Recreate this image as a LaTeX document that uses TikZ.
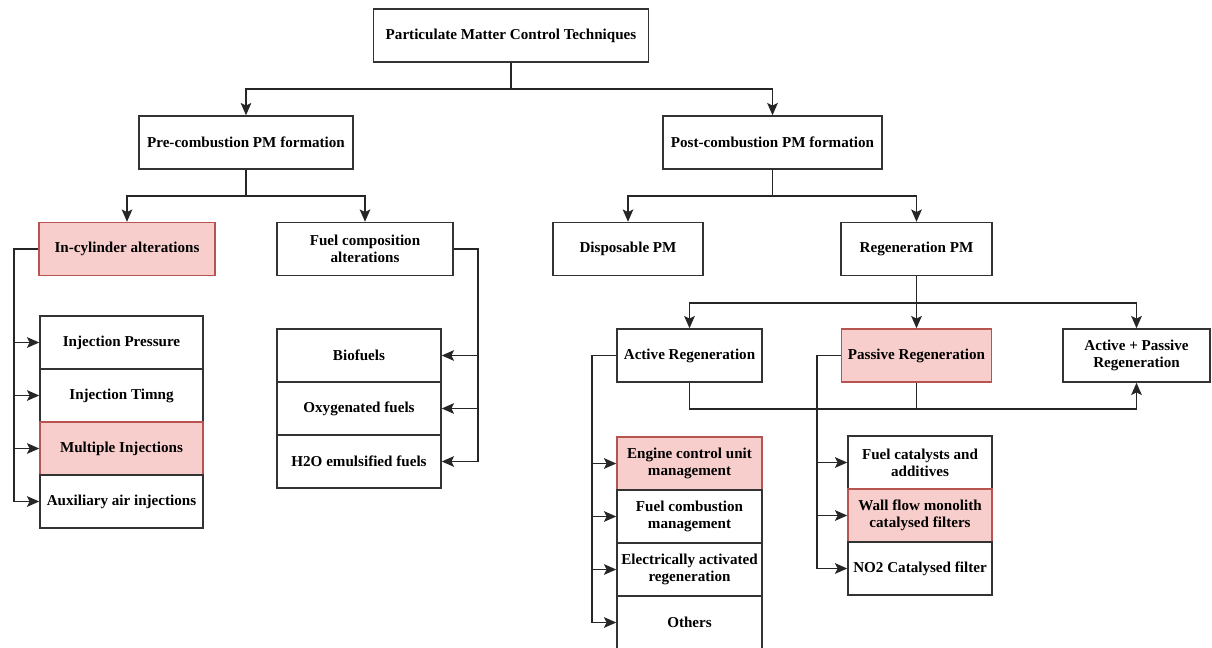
\documentclass[tikz,border=0pt]{standalone}
\usepackage{fontspec}
\setmainfont{Liberation Serif}
\usetikzlibrary{arrows.meta}
\definecolor{hlfill}{RGB}{248,206,204}
\definecolor{hldraw}{RGB}{184,84,80}

\begin{document}
\begin{tikzpicture}[x=0.02cm,y=-0.02cm,thick,
    box/.style={draw=black!80,line width=0.8pt,fill=white,align=center,inner sep=2pt,
      font=\bfseries\fontsize{8.6}{9.8}\selectfont,minimum height=1.06cm},
    hl box/.style={box,fill=hlfill,draw=hldraw},
    link/.style={draw=black!85,line width=1.1pt},
    arr/.style={link,-{Stealth[length=7pt,width=6pt,inset=1.5pt]}}
  ]
  \useasboundingbox (0,0) rectangle (1212,648);

  \node[box,minimum width=5.5cm] (pmct) at (511,35.5) {Particulate Matter Control Techniques};
  \node[box,minimum width=4.28cm] (pre) at (246,142.5) {Pre-combustion PM formation};
  \node[box,minimum width=4.38cm] (post) at (772.5,142.5) {Post-combustion PM formation};
  \node[hl box,minimum width=3.52cm] (incyl) at (127,249) {In-cylinder alterations};
  \node[box,minimum width=3.52cm] (fuelcomp) at (365,249) {Fuel composition\\alterations};
  \node[box,minimum width=3.0cm] (disp) at (628,249) {Disposable PM};
  \node[box,minimum width=3.02cm] (regen) at (916.5,249) {Regeneration PM};
  \node[box,minimum width=2.9cm] (active) at (689.5,355.5) {Active Regeneration};
  \node[hl box,minimum width=3.0cm] (passive) at (916.5,355.5) {Passive Regeneration};
  \node[box,minimum width=2.94cm] (actpass) at (1136.5,355.5) {Active + Passive\\Regeneration};

  \node[box,minimum width=3.26cm] (ic1) at (121.5,342.5) {Injection Pressure};
  \node[box,minimum width=3.26cm] (ic2) at (121.5,395.5) {Injection Timng};
  \node[hl box,minimum width=3.26cm] (ic3) at (121.5,448.5) {Multiple Injections};
  \node[box,minimum width=3.26cm] (ic4) at (121.5,501.5) {Auxiliary air injections};

  \node[box,minimum width=3.28cm] (fl1) at (359,355.5) {Biofuels};
  \node[box,minimum width=3.28cm] (fl2) at (359,408.5) {Oxygenated fuels};
  \node[box,minimum width=3.28cm] (fl3) at (359,461.5) {H2O emulsified fuels};

  \node[hl box,minimum width=2.9cm] (al1) at (689.5,463.5) {Engine control unit\\management};
  \node[box,minimum width=2.9cm] (al2) at (689.5,516.5) {Fuel combustion\\management};
  \node[box,minimum width=2.9cm] (al3) at (689.5,569.5) {Electrically activated\\regeneration};
  \node[box,minimum width=2.9cm] (al4) at (689.5,622.5) {Others};

  \node[box,minimum width=2.88cm] (pl1) at (920,462.5) {Fuel catalysts and\\additives};
  \node[hl box,minimum width=2.88cm] (pl2) at (920,515.5) {Wall flow monolith\\catalysed filters};
  \node[box,minimum width=2.88cm] (pl3) at (920,568.5) {NO2 Catalysed filter};

  \coordinate (j1) at (511,89);
  \draw[link] (pmct) -- (j1);
  \draw[arr] (j1) -| (pre);
  \draw[arr] (j1) -| (post);

  \coordinate (j2) at (246,196);
  \draw[link] (pre) -- (j2);
  \draw[arr] (j2) -| (incyl);
  \draw[arr] (j2) -| (fuelcomp);

  \coordinate (j3) at (772.5,196);
  \draw[link] (post) -- (j3);
  \draw[arr] (j3) -| (disp);
  \draw[arr] (j3) -| (regen);

  \coordinate (j4) at (916.5,303);
  \draw[link] (regen) -- (j4);
  \draw[arr] (j4) -| (active);
  \draw[arr] (j4) -- (passive);
  \draw[arr] (j4) -| (actpass);

  \coordinate (j5) at (1136.5,409);
  \draw[arr] (active.south) |- (j5) -- (actpass.south);
  \draw[link] (passive.south) -- (passive.south |- j5);

  \coordinate (b1) at (14,249);
  \draw[link] (incyl) -- (b1) -- (b1 |- ic4);
  \foreach \i in {1,...,4} \draw[arr] (b1 |- ic\i) -- (ic\i);

  \coordinate (b2) at (478,249);
  \draw[link] (fuelcomp) -- (b2) -- (b2 |- fl3);
  \foreach \i in {1,2,3} \draw[arr] (b2 |- fl\i) -- (fl\i);

  \coordinate (b3) at (592,355.5);
  \draw[link] (active) -- (b3) -- (b3 |- al4);
  \foreach \i in {1,...,4} \draw[arr] (b3 |- al\i) -- (al\i);

  \coordinate (b4) at (817,355.5);
  \draw[link] (passive) -- (b4) -- (b4 |- pl3);
  \foreach \i in {1,2,3} \draw[arr] (b4 |- pl\i) -- (pl\i);
\end{tikzpicture}
\end{document}
